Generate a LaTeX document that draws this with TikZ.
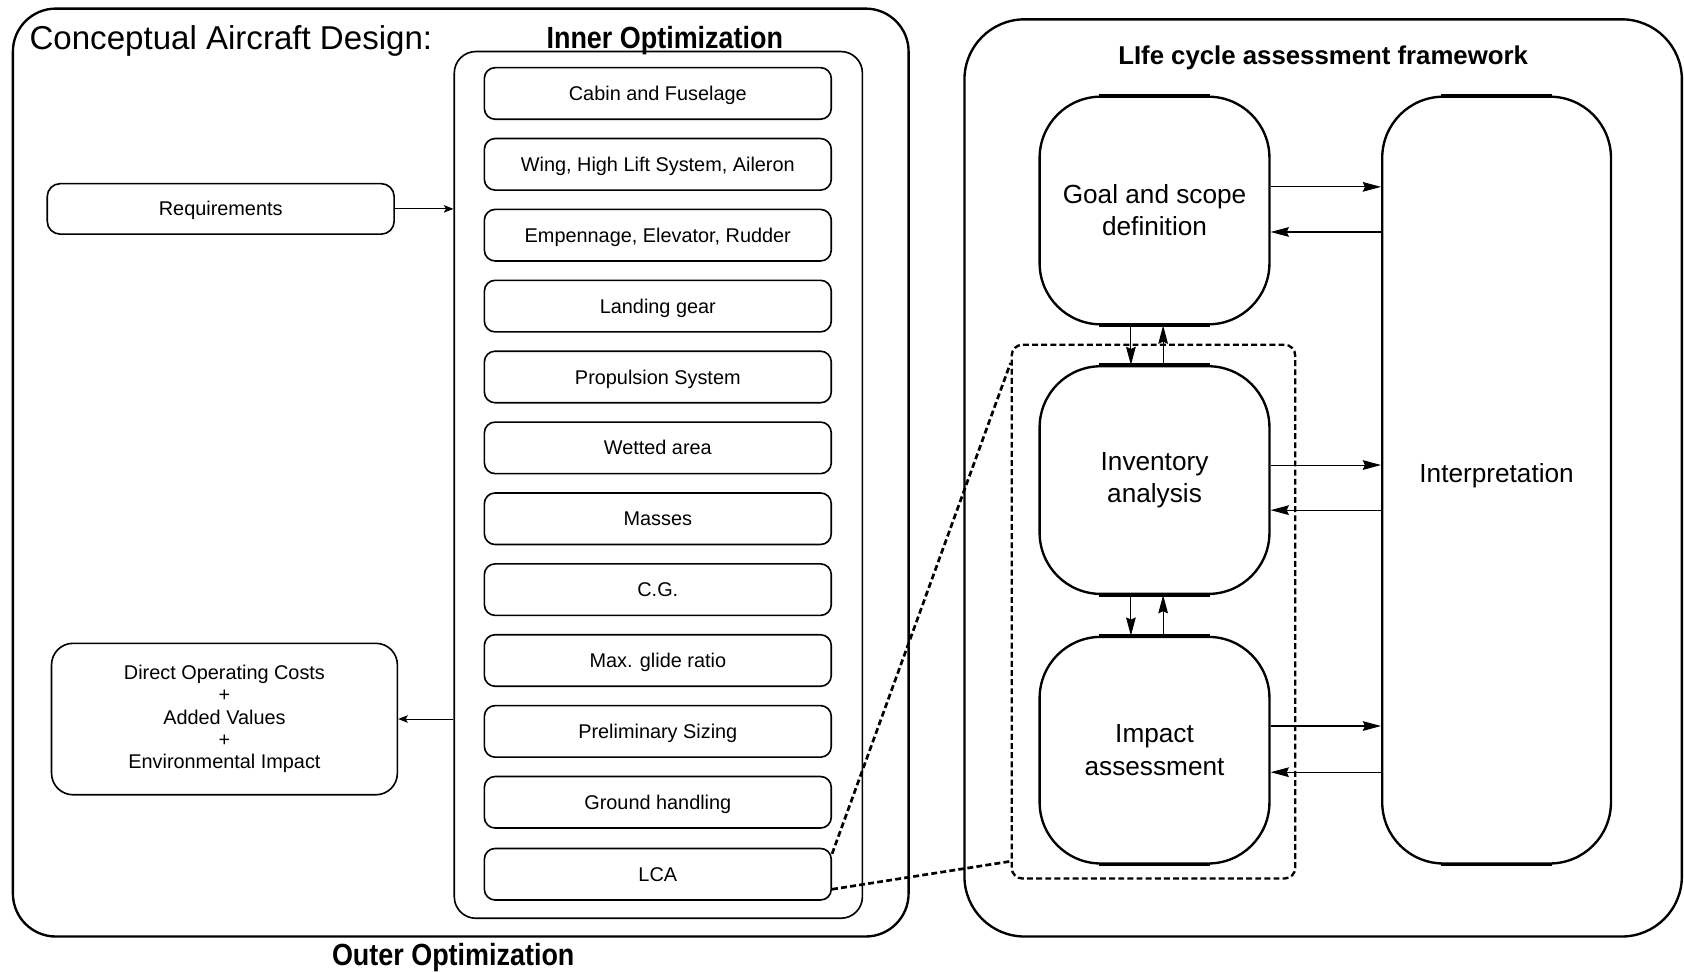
\documentclass[tikz,border=0pt]{standalone}
\usepackage{fontspec}
\setmainfont{Liberation Sans}
\newfontfamily\condfont[FakeStretch=0.88]{Liberation Sans}
\usetikzlibrary{arrows.meta,calc}

\begin{document}
\begin{tikzpicture}[x=1pt,y=-1pt,
  outerbox/.style={draw, line width=2.2pt, inner sep=0pt},
  itembox/.style={draw, line width=1.5pt, rounded corners=10pt, minimum width=323pt, minimum height=48pt, inner sep=0pt, text height=15pt, text depth=1.8pt, font=\fontsize{18.5}{22}\selectfont},
  sidebox/.style={draw, line width=1.5pt, inner sep=0pt, align=center, font=\fontsize{18.5}{20.8}\selectfont},
  lcabox/.style={draw, line width=2.2pt, rounded corners=57pt, minimum width=214pt, inner sep=0pt, align=center, font=\fontsize{24.4}{30}\selectfont},
  smallarrow/.style={line width=1pt, -{Stealth[length=9pt,width=7pt,inset=2pt]}},
  lcaarrow/.style={line width=1pt, -{Stealth[length=17pt,width=9pt,inset=2pt]}},
  dashline/.style={line width=2.5pt, dash pattern=on 5.5pt off 3pt},
  titlefont/.style={font=\condfont\bfseries\fontsize{28.5}{32}\selectfont}
]
\useasboundingbox (0,0) rectangle (1568,905);

% ---------- left part ----------
\node[outerbox, rounded corners=40pt, minimum width=834pt, minimum height=864pt] (outer) at (429,440) {};
\node[anchor=west, font=\fontsize{30.8}{34}\selectfont] (cadtitle) at (24,38) {Conceptual Aircraft Design:};
\node[draw, line width=1.5pt, rounded corners=20pt, minimum width=380pt, minimum height=807pt, inner sep=0pt] (inner) at (613,451.5) {};
\node[titlefont] (innertitle) at (619,38) {Inner Optimization};
\node[titlefont] (outertitle) at (422,892) {Outer Optimization};

\node[itembox] (i1) at (612.5,87) {Cabin and Fuselage};
\node[itembox] (i2) at (612.5,153) {Wing, High Lift System, Aileron};
\node[itembox] (i3) at (612.5,219) {Empennage, Elevator, Rudder};
\node[itembox] (i4) at (612.5,285) {Landing gear};
\node[itembox] (i5) at (612.5,351) {Propulsion System};
\node[itembox] (i6) at (612.5,417) {Wetted area};
\node[itembox] (i7) at (612.5,483) {Masses};
\node[itembox] (i8) at (612.5,549) {C.G.};
\node[itembox] (i9) at (612.5,615) {Max. glide ratio};
\node[itembox] (i10) at (612.5,681) {Preliminary Sizing};
\node[itembox] (i11) at (612.5,747) {Ground handling};
\node[itembox] (lca) at (612.5,814) {LCA};

\node[sidebox, rounded corners=12pt, minimum width=323pt, minimum height=47pt, text height=15pt, text depth=1.8pt] (req) at (205.5,194.5) {Requirements};
\node[sidebox, rounded corners=20pt, minimum width=322pt, minimum height=141pt] (doc) at (209,669.5) {Direct Operating Costs\\+\\Added Values\\+\\Environmental Impact};

\draw[smallarrow] (req.east) -- (req.east -| inner.west);
\draw[smallarrow] (inner.west |- doc.east) -- (doc.east);

% ---------- right part ----------
\node[outerbox, rounded corners=56pt, minimum width=668pt, minimum height=854pt] (right) at (1232,445) {};
\node[font=\bfseries\fontsize{24}{28}\selectfont] (lcatitle) at (1232,54) {LIfe cycle assessment framework};

\node[lcabox, minimum height=212pt] (goal) at (1075,196) {Goal and scope\\definition};
\node[lcabox, minimum height=212pt] (inv) at (1075,447) {Inventory\\analysis};
\node[lcabox, minimum height=211pt] (imp) at (1075,698.5) {Impact\\assessment};
\node[lcabox, minimum width=213pt, minimum height=714pt] (interp) at (1393.5,447) {\raisebox{-2.7pt}[0pt][0pt]{Interpretation}};

\foreach \n in {goal,inv,imp,interp}{
  \draw[line width=3.2pt] ($(\n.north west)+(56,0)$) -- ($(\n.north east)+(-56,0)$);
  \draw[line width=3.2pt] ($(\n.south west)+(56,0)$) -- ($(\n.south east)+(-56,0)$);
}

\node[draw, line width=2.2pt, dash pattern=on 5.5pt off 3pt, rounded corners=10pt, minimum width=264pt, minimum height=497pt, inner sep=0pt] (dash) at (1074,569.5) {};

% horizontal arrows
\coordinate (ya) at (0,174);
\coordinate (yb) at (0,216);
\coordinate (yc) at (0,433);
\coordinate (yd) at (0,475);
\coordinate (ye) at (0,676);
\coordinate (yf) at (0,719);
\draw[lcaarrow] (goal.east |- ya) -- (interp.west |- ya);
\draw[lcaarrow] (interp.west |- yb) -- (goal.east |- yb);
\draw[lcaarrow] (inv.east |- yc) -- (interp.west |- yc);
\draw[lcaarrow] (interp.west |- yd) -- (inv.east |- yd);
\draw[lcaarrow] (imp.east |- ye) -- (interp.west |- ye);
\draw[lcaarrow] (interp.west |- yf) -- (imp.east |- yf);

% vertical arrows
\coordinate (xa) at (1053,0);
\coordinate (xb) at (1083,0);
\draw[lcaarrow] (xa |- goal.south) -- (xa |- inv.north);
\draw[lcaarrow] (xb |- inv.north) -- (xb |- goal.south);
\draw[lcaarrow] (xa |- inv.south) -- (xa |- imp.north);
\draw[lcaarrow] (xb |- imp.north) -- (xb |- inv.south);

% dashed zoom lines
\coordinate (d1) at (0,795);
\coordinate (d2) at (0,338);
\coordinate (d3) at (0,828);
\coordinate (d4) at (0,802);
\draw[dashline] (lca.east |- d1) -- (dash.west |- d2);
\draw[dashline] (lca.east |- d3) -- (dash.west |- d4);
\end{tikzpicture}
\end{document}
